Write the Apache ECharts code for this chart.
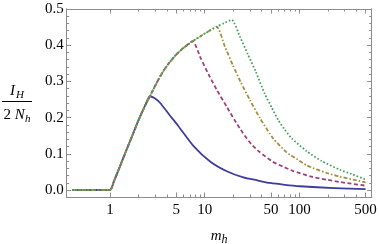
<!DOCTYPE html>
<html>
<head>
<meta charset="utf-8">
<script src="https://cdn.jsdelivr.net/npm/echarts@6/dist/echarts.min.js"></script>
<style>html,body{margin:0;padding:0;background:#fff;}#c{width:379px;height:244px;}</style>
</head>
<body>
<div id="c"></div>
<script>
// ---- data (m_h values and I_H/(2 N_h) values) ----
const blueM   = [0.4, 1, 1.1, 1.25, 1.5, 1.75, 2, 2.3, 2.64, 2.94, 3.37, 4.23, 5.26, 7.59, 11.4, 17.1, 25.6, 35.4, 49, 70, 101, 234, 500];
const blueV   = [0, 0, 0.024, 0.06, 0.112, 0.155, 0.193, 0.228, 0.259, 0.254, 0.241, 0.208, 0.177, 0.122, 0.079, 0.052, 0.035, 0.027, 0.0195, 0.0143, 0.0104, 0.0052, 0.0026];
const purpleM = [0.4, 1, 1.1, 1.25, 1.5, 1.75, 2, 2.3, 2.64, 3, 3.37, 3.8, 4.3, 5, 6, 7.47, 9.08, 11.0, 13.4, 17.1, 20.7, 25.2, 31.0, 38.1, 52.3, 66.6, 85, 138, 199, 267, 500];
const purpleV = [0, 0, 0.024, 0.06, 0.112, 0.155, 0.193, 0.228, 0.259, 0.288, 0.313, 0.335, 0.354, 0.374, 0.393, 0.411, 0.364, 0.319, 0.277, 0.230, 0.193, 0.158, 0.127, 0.105, 0.078, 0.065, 0.053, 0.036, 0.028, 0.022, 0.012];
const oliveM  = [0.4, 1, 1.1, 1.25, 1.5, 1.75, 2, 2.3, 2.64, 3, 3.37, 3.8, 4.3, 5, 6, 7.47, 10, 13.4, 16.3, 19.8, 24.0, 30.1, 38.4, 53.0, 73.4, 93.6, 119.4, 194, 267, 366, 500];
const oliveV  = [0, 0, 0.024, 0.06, 0.112, 0.155, 0.193, 0.228, 0.259, 0.288, 0.313, 0.335, 0.354, 0.374, 0.393, 0.411, 0.432, 0.451, 0.397, 0.345, 0.298, 0.248, 0.198, 0.142, 0.104, 0.086, 0.068, 0.047, 0.037, 0.029, 0.021];
const greenM  = [0.4, 1, 1.1, 1.25, 1.5, 1.75, 2, 2.3, 2.64, 3, 3.37, 3.8, 4.3, 5, 6, 7.47, 10, 13.4, 16, 19.3, 23.6, 28.4, 34.6, 43.0, 51, 59.8, 70, 82.9, 119.4, 171.9, 267, 357, 500];
const greenV  = [0, 0, 0.024, 0.06, 0.112, 0.155, 0.193, 0.228, 0.259, 0.288, 0.313, 0.335, 0.354, 0.374, 0.393, 0.411, 0.432, 0.451, 0.461, 0.47, 0.423, 0.376, 0.327, 0.266, 0.228, 0.193, 0.167, 0.143, 0.107, 0.08, 0.056, 0.044, 0.029];

const xMajorTicks = [1, 5, 10, 50, 100, 500];
const xMinorTicks = [2, 3, 4, 6, 7, 8, 9, 20, 30, 40, 60, 70, 80, 90, 200, 300, 400];
const yMajorTicks = [0, 0.1, 0.2, 0.3, 0.4, 0.5];
const yMinorTicks = [0.02, 0.04, 0.06, 0.08, 0.12, 0.14, 0.16, 0.18, 0.22, 0.24, 0.26, 0.28, 0.32, 0.34, 0.36, 0.38, 0.42, 0.44, 0.46, 0.48];

const X_MIN = 0.349, X_MAX = 580, Y_MIN = -0.0193, Y_MAX = 0.5;

const lg = Math.log10;
const toPts = (m, v) => m.map((x, i) => [lg(x), v[i]]);

const FRAME = '#8c8c8c';
const SERIF = '"Liberation Serif","DejaVu Serif",serif';

function xAx(pos, ticks, len, withLabel) {
  const a = {
    type: 'value', position: pos, min: lg(X_MIN), max: lg(X_MAX),
    axisLine: { show: true, onZero: false, lineStyle: { color: FRAME, width: 1 } },
    axisTick: { show: true, inside: true, length: len, customValues: ticks.map(lg), lineStyle: { color: FRAME, width: 1 } },
    axisLabel: { show: false },
    splitLine: { show: false }
  };
  if (withLabel) {
    a.axisLabel = { show: true, customValues: ticks.map(lg), formatter: v => String(Math.round(Math.pow(10, v))),
      color: '#000', fontFamily: SERIF, fontSize: 15, margin: 6 };
    a.name = '{m|m}{h|h}';
    a.nameLocation = 'middle';
    a.nameGap = 29;
    a.nameTextStyle = { rich: {
      m: { fontFamily: SERIF, fontStyle: 'italic', fontSize: 15, color: '#000' },
      h: { fontFamily: SERIF, fontStyle: 'italic', fontSize: 12, color: '#000', padding: [8, 0, 0, 0] }
    } };
  }
  return a;
}
function yAx(pos, ticks, len, withLabel) {
  const a = {
    type: 'value', position: pos, min: Y_MIN, max: Y_MAX,
    axisLine: { show: true, onZero: false, lineStyle: { color: FRAME, width: 1 } },
    axisTick: { show: true, inside: true, length: len, customValues: ticks, lineStyle: { color: FRAME, width: 1 } },
    axisLabel: { show: false },
    splitLine: { show: false }
  };
  if (withLabel) {
    a.axisLabel = { show: true, customValues: ticks, formatter: v => v.toFixed(1),
      color: '#000', fontFamily: SERIF, fontSize: 15, margin: 3 };
  }
  return a;
}

const chart = echarts.init(document.getElementById('c'), null, { renderer: 'canvas' });
const lineSeries = (name, m, v, color, type, width) => ({
  name, type: 'line', xAxisIndex: 0, yAxisIndex: 0, data: toPts(m, v), showSymbol: false, symbol: 'none',
  smooth: 0.2, lineStyle: { color, width, type, cap: 'butt', join: 'round' }, animation: false
});

chart.setOption({
  animation: false,
  grid: { left: 66.7, right: 7.3, top: 9, bottom: 47, outerBoundsMode: 'none', containLabel: false },
  xAxis: [xAx('bottom', xMajorTicks, 4.5, true), xAx('bottom', xMinorTicks, 2.5, false),
          xAx('top', xMajorTicks, 4.5, false), xAx('top', xMinorTicks, 2.5, false)],
  yAxis: [yAx('left', yMajorTicks, 4.5, true), yAx('left', yMinorTicks, 2.5, false),
          yAx('right', yMajorTicks, 4.5, false), yAx('right', yMinorTicks, 2.5, false)],
  series: [
    lineSeries('a', blueM, blueV, '#3d3d9e', 'solid', 1.8),
    lineSeries('b', purpleM, purpleV, '#a0407a', [4, 2.5], 1.8),
    lineSeries('c', oliveM, oliveV, '#a08f40', [4, 2, 1.5, 2], 1.8),
    lineSeries('d', greenM, greenV, '#40a05a', [1.6, 2], 1.8)
  ],
  graphic: [
    { type: 'text', x: 17, y: 91, style: { text: '{i|I}{s|H}', align: 'center', verticalAlign: 'middle',
      rich: { i: { fontFamily: SERIF, fontStyle: 'italic', fontSize: 15, fill: '#000' },
              s: { fontFamily: SERIF, fontStyle: 'italic', fontSize: 11, fill: '#000', padding: [8, 0, 0, 1] } } } },
    { type: 'line', shape: { x1: 2, y1: 101.5, x2: 32, y2: 101.5 }, style: { stroke: '#000', lineWidth: 1 } },
    { type: 'text', x: 17, y: 115, style: { text: '{n|2 }{i|N}{s|h}', align: 'center', verticalAlign: 'middle',
      rich: { n: { fontFamily: SERIF, fontSize: 15, fill: '#000' },
              i: { fontFamily: SERIF, fontStyle: 'italic', fontSize: 15, fill: '#000' },
              s: { fontFamily: SERIF, fontStyle: 'italic', fontSize: 11, fill: '#000', padding: [8, 0, 0, 0] } } } }
  ]
});
</script>
</body>
</html>
